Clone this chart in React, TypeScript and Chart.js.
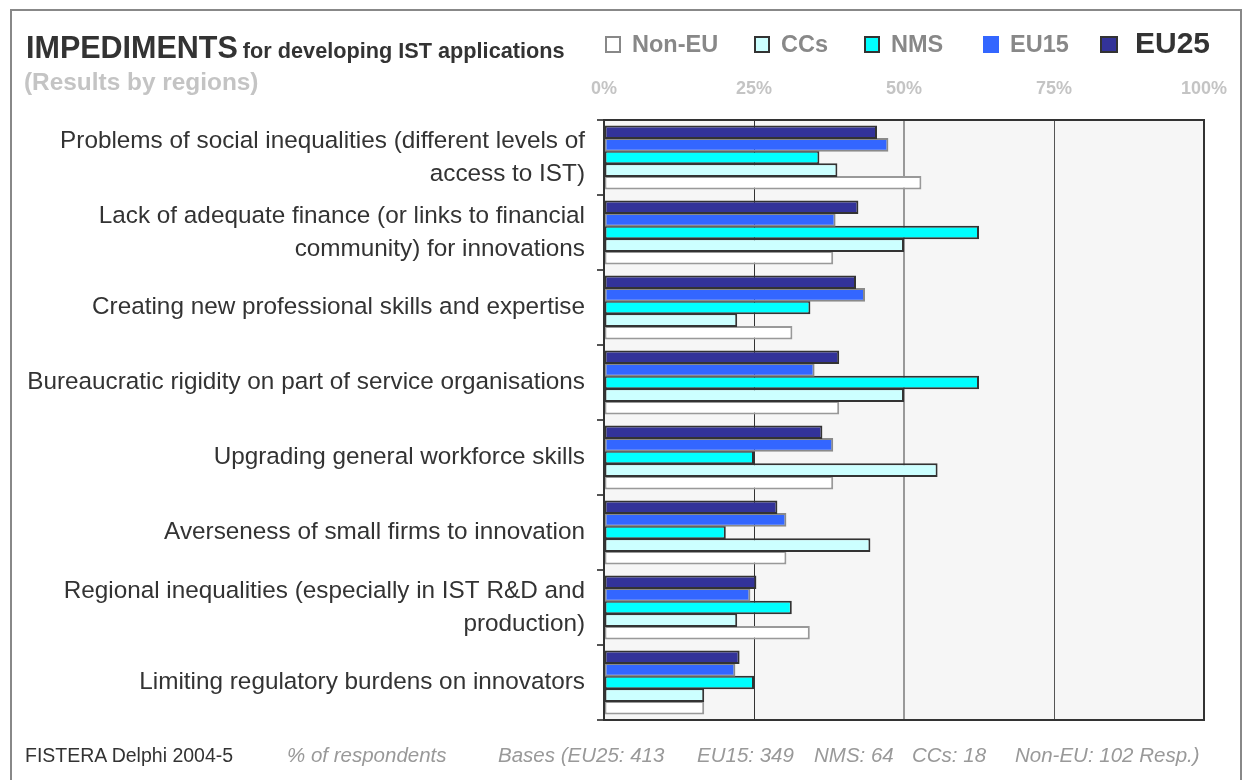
import React, { useEffect, useRef } from "react";
import { Chart, registerables } from "chart.js";

Chart.register(...registerables);

const categories: (string | string[])[] = [
  ["Problems of social inequalities (different levels of", "access to IST)"],
  ["Lack of adequate finance (or links to financial", "community) for innovations"],
  "Creating new professional skills and expertise",
  "Bureaucratic rigidity on part of service organisations",
  "Upgrading general workforce skills",
  "Averseness of small firms to innovation",
  ["Regional inequalities (especially in IST R&D and", "production)"],
  "Limiting regulatory burdens on innovators",
];

const eu25 = [45.5, 42.4, 42.0, 39.2, 36.4, 28.9, 25.4, 22.6];
const eu15 = [47.4, 38.6, 43.5, 35.1, 38.2, 30.4, 24.4, 21.9];
const nms = [35.9, 62.5, 34.4, 62.5, 25.0, 20.3, 31.3, 25.0];
const ccs = [38.9, 50.0, 22.2, 50.0, 55.6, 44.4, 22.2, 16.7];
const nonEu = [52.9, 38.2, 31.4, 39.2, 38.2, 30.4, 34.3, 16.7];

const xTicks = [0, 25, 50, 75, 100];

const FONT = '"Liberation Sans", Arial, sans-serif';

const legendItems = [
  { label: "Non-EU", fill: "#ffffff", border: "#888888" },
  { label: "CCs", fill: "#ccffff", border: "#333333" },
  { label: "NMS", fill: "#00ffff", border: "#333333" },
  { label: "EU15", fill: "#3366ff", border: "#3366ff" },
  { label: "EU25", fill: "#333399", border: "#333333" },
];
const legendX = [605, 754, 864, 983, 1100];

const footerItems = [
  { text: "FISTERA Delphi 2004-5", x: 25, italic: false, color: "#333333", size: 19.5 },
  { text: "% of respondents", x: 287, italic: true, color: "#999999", size: 20.5 },
  { text: "Bases (EU25: 413", x: 498, italic: true, color: "#999999", size: 20.5 },
  { text: "EU15: 349", x: 697, italic: true, color: "#999999", size: 20.5 },
  { text: "NMS: 64", x: 814, italic: true, color: "#999999", size: 20.5 },
  { text: "CCs: 18", x: 912, italic: true, color: "#999999", size: 20.5 },
  { text: "Non-EU: 102 Resp.)", x: 1015, italic: true, color: "#999999", size: 20.5 },
];

export default function App() {
  const ref = useRef<HTMLCanvasElement>(null);

  useEffect(() => {
    if (!ref.current) return;
    const areaPlugin = {
      id: "areaPlugin",
      beforeDraw(c: any) {
        const { ctx, chartArea: a } = c;
        ctx.save();
        ctx.fillStyle = "#f6f6f6";
        ctx.fillRect(a.left, a.top, a.right - a.left, a.bottom - a.top);
        ctx.restore();
      },
      afterDraw(c: any) {
        const { ctx, chartArea: a } = c;
        ctx.save();
        ctx.strokeStyle = "#333333";
        ctx.lineWidth = 2;
        ctx.strokeRect(a.left, a.top, a.right - a.left, a.bottom - a.top);
        ctx.restore();
      },
    };

    const common = { categoryPercentage: 0.84, barPercentage: 1.08, borderWidth: 2, borderSkipped: false as const };

    const chart = new Chart(ref.current, {
      type: "bar",
      data: {
        labels: categories,
        datasets: [
          { label: "EU25", data: eu25, backgroundColor: "#333399", borderColor: "#333333", ...common },
          { label: "EU15", data: eu15, backgroundColor: "#3366ff", borderColor: "#8a8a8a", ...common },
          { label: "NMS", data: nms, backgroundColor: "#00ffff", borderColor: "#333333", ...common },
          { label: "CCs", data: ccs, backgroundColor: "#ccffff", borderColor: "#333333", ...common },
          { label: "Non-EU", data: nonEu, backgroundColor: "#ffffff", borderColor: "#999999", ...common },
        ],
      },
      options: {
        indexAxis: "y",
        animation: false,
        responsive: false,
        devicePixelRatio: 1,
        layout: { padding: { left: 0, top: 0, right: 39, bottom: 60 } },
        plugins: { legend: { display: false }, tooltip: { enabled: false } },
        scales: {
          x: {
            position: "top",
            min: 0,
            max: 100,
            afterBuildTicks(scale: any) {
              scale.ticks = xTicks.map((v) => ({ value: v }));
            },
            afterFit(scale: any) {
              scale.height = 120;
              scale.paddingLeft = 0;
              scale.paddingRight = 0;
            },
            ticks: {
              callback: (v: any) => v + "%",
              color: "#c4c4c4",
              font: { family: FONT, size: 18, weight: "bold" },
              padding: 20,
              maxRotation: 0,
            },
            grid: {
              drawTicks: false,
              color: (ctx: any) => {
                const v = ctx.tick ? ctx.tick.value : -1;
                if (v === 50) return "#999999";
                if (v === 25) return "#333333";
                if (v === 75) return "#555555";
                return "rgba(0,0,0,0)";
              },
              lineWidth: (ctx: any) => (ctx.tick && ctx.tick.value === 50 ? 2 : 1),
            },
            border: { display: false },
          },
          y: {
            afterFit(scale: any) {
              scale.width = 604;
            },
            ticks: {
              autoSkip: false,
              color: "#333333",
              font: { family: FONT, size: 24.3, lineHeight: 1.36 },
              padding: 12,
            },
            grid: {
              drawOnChartArea: false,
              drawTicks: true,
              tickLength: 7,
              color: "#555555",
              lineWidth: 2,
              offset: true,
            },
            border: { display: false },
          },
        },
      },
      plugins: [areaPlugin],
    } as any);
    return () => chart.destroy();
  }, []);

  return (
    <div
      style={{
        position: "absolute",
        left: 0,
        top: 0,
        width: 1243,
        height: 780,
        overflow: "hidden",
        background: "#ffffff",
        fontFamily: FONT,
      }}
    >
      <div
        style={{
          position: "absolute",
          left: 10,
          top: 9,
          width: 1232,
          height: 820,
          border: "2px solid #888888",
          boxSizing: "border-box",
        }}
      />
      <canvas ref={ref} width={1243} height={780} style={{ position: "absolute", left: 0, top: 0 }} />
      <div style={{ position: "absolute", left: 26, top: 32, lineHeight: 1, whiteSpace: "nowrap", color: "#333333", fontWeight: "bold" }}>
        <span style={{ fontSize: 30.5 }}>IMPEDIMENTS</span>
        <span style={{ fontSize: 21.7, marginLeft: 5 }}>for developing IST applications</span>
      </div>
      <div style={{ position: "absolute", left: 24, top: 70, lineHeight: 1, fontSize: 24.4, fontWeight: "bold", color: "#c4c4c4", whiteSpace: "nowrap" }}>
        (Results by regions)
      </div>
      {legendItems.map((it, i) => {
        const big = it.label === "EU25";
        return (
          <div key={it.label} style={{ position: "absolute", left: legendX[i], top: 36, height: 17, whiteSpace: "nowrap" }}>
            <div
              style={{
                position: "absolute",
                left: 0,
                top: 0,
                width: big ? 18 : 16,
                height: 17,
                background: it.fill,
                border: `2px solid ${it.border}`,
                boxSizing: "border-box",
              }}
            />
            <span
              style={{
                position: "absolute",
                left: big ? 35 : 27,
                top: big ? -8 : -3,
                lineHeight: 1,
                fontSize: big ? 30 : 23.5,
                fontWeight: "bold",
                color: big ? "#333333" : "#888888",
              }}
            >
              {it.label}
            </span>
          </div>
        );
      })}
      {footerItems.map((f) => (
        <div
          key={f.text}
          style={{
            position: "absolute",
            left: f.x,
            top: f.italic ? 745 : 746,
            lineHeight: 1,
            fontSize: f.size,
            fontStyle: f.italic ? "italic" : "normal",
            color: f.color,
            whiteSpace: "nowrap",
          }}
        >
          {f.text}
        </div>
      ))}
    </div>
  );
}
